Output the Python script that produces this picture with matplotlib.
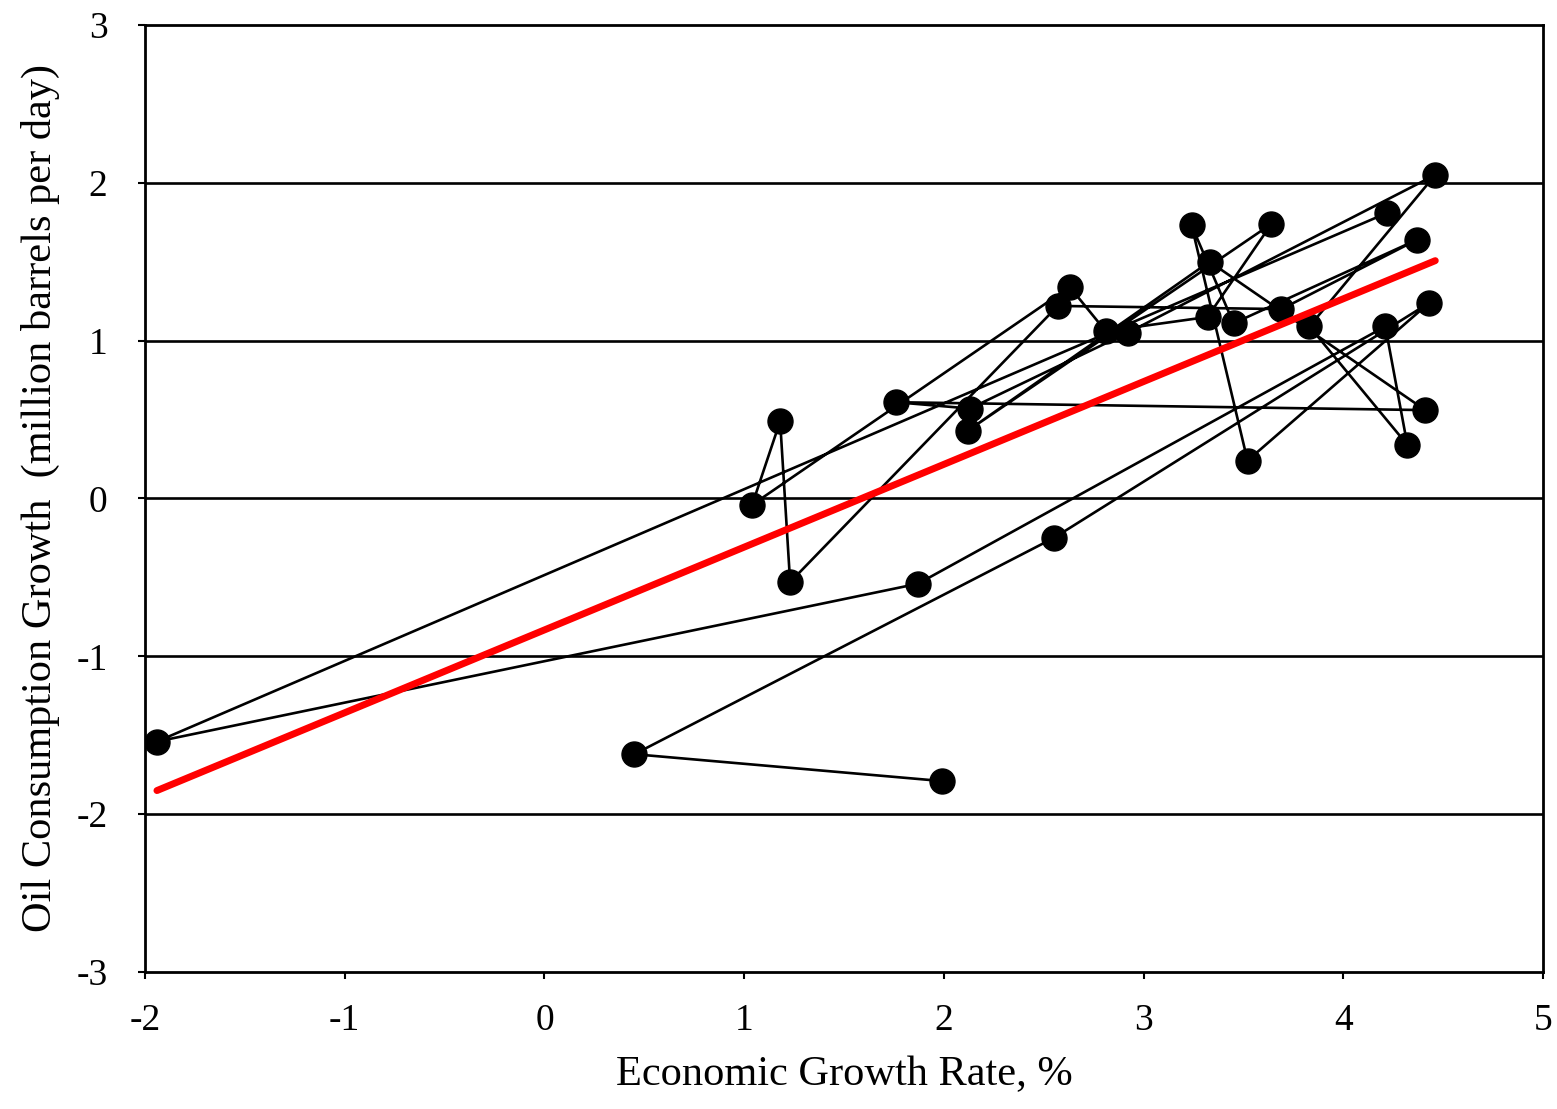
import numpy as np
import matplotlib
matplotlib.use("Agg")
import matplotlib.pyplot as plt

plt.rcParams['font.family'] = ['Liberation Serif', 'DejaVu Serif']

# One point per year (1981-2010), in time order
years = list(range(1981, 2011))
growth = [1.99, 0.45, 2.55, 4.43, 3.52, 3.24, 3.45, 4.37, 3.69, 2.57,
          1.23, 1.18, 1.04, 2.63, 2.81, 3.32, 3.64, 2.12, 3.33, 4.41,
          1.76, 2.13, 2.92, 4.46, 3.83, 4.32, 4.21, 1.87, -1.94, 4.22]
oil = [-1.79, -1.62, -0.25, 1.24, 0.24, 1.73, 1.11, 1.64, 1.20, 1.22,
       -0.53, 0.49, -0.04, 1.34, 1.06, 1.15, 1.74, 0.43, 1.50, 0.56,
       0.61, 0.57, 1.05, 2.05, 1.09, 0.34, 1.09, -0.54, -1.54, 1.81]

xticks = [-2, -1, 0, 1, 2, 3, 4, 5]
yticks = [-3, -2, -1, 0, 1, 2, 3]

fig = plt.figure(figsize=(15.57, 11.09), dpi=100)
ax = fig.add_axes([0.0931, 0.1235, 0.898, 0.854])

for yv in yticks[1:-1]:
    ax.axhline(yv, color='black', lw=1.9, zorder=1)

ax.plot(growth, oil, color='black', lw=1.9, marker='o', markersize=18,
        markerfacecolor='black', markeredgecolor='black', zorder=3)

gx = np.array(growth)
gy = np.array(oil)
k, b = np.polyfit(gx, gy, 1)
xs = np.array([gx.min(), gx.max()])
ax.plot(xs, k * xs + b, color='#ff0000', lw=5, zorder=4, solid_capstyle='round')

ax.set_xlim(-2, 5)
ax.set_ylim(-3, 3)
ax.set_xticks(xticks)
ax.set_yticks(yticks)
ax.set_xticklabels([str(v) for v in xticks])
ax.set_yticklabels([str(v) for v in yticks])
ax.tick_params(axis='x', labelsize=27, length=5, width=1.5, direction='out', pad=18)
ax.tick_params(axis='y', labelsize=27, length=5, width=1.5, direction='out', pad=22)
for s in ax.spines.values():
    s.set_linewidth(2)
    s.set_color('black')

ax.set_xlabel('Economic Growth Rate, %', fontsize=30.5, labelpad=12)
ax.set_ylabel('Oil Consumption Growth  (million barrels per day)', fontsize=30.5, labelpad=12)

fig.savefig('out.png', dpi=100)
